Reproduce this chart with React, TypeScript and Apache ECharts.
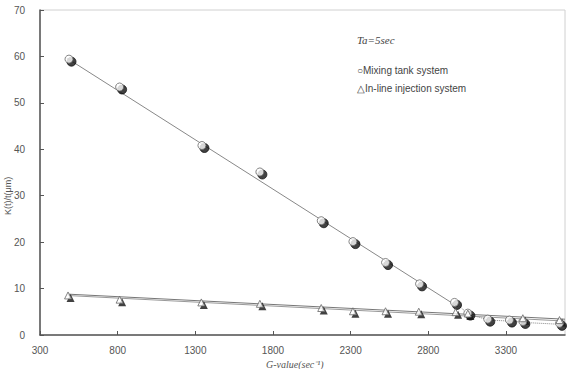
import React, { useEffect, useRef } from "react";
import * as echarts from "echarts";

const mixG = [493, 819, 1349, 1722, 2117, 2321, 2531, 2750, 2975, 3061, 3189, 3329, 3415, 3651];
const mixK = [59.2, 53.2, 40.6, 34.9, 24.4, 19.9, 15.4, 10.8, 6.8, 4.5, 3.2, 3.0, 2.7, 2.3];
const inlG = [487, 819, 1345, 1722, 2117, 2321, 2531, 2745, 2982, 3061, 3415, 3651];
const inlK = [8.3, 7.4, 6.8, 6.5, 5.6, 4.9, 4.9, 4.8, 4.7, 4.4, 3.4, 3.0];
const mixFitG = [470, 2990];
const mixFitK = [59.7, 6.1];
const mixTailG = [2975, 3061, 3189, 3329, 3415, 3651];
const mixTailK = [6.8, 4.5, 3.2, 3.0, 2.7, 2.3];
const inlFitG = [480, 3680];
const inlFitK1 = [8.8, 3.4];
const inlFitK2 = [8.5, 3.0];
const xTicks = [300, 800, 1300, 1800, 2300, 2800, 3300];
const yTicks = [0, 10, 20, 30, 40, 50, 60, 70];

const zip = (a: number[], b: number[]) => a.map((v, i) => [v, b[i]]);

export default function App() {
  const ref = useRef<HTMLDivElement>(null);
  useEffect(() => {
    const chart = echarts.init(ref.current!, null, { renderer: "svg" });
    const font = "Liberation Sans";
    chart.setOption({
      animation: false,
      backgroundColor: "#fff",
      grid: { left: 40, right: 2, top: 10, bottom: 34, show: true, borderColor: "#d0d0d0", borderWidth: 1 },
      xAxis: {
        type: "value",
        min: 300,
        max: 3680,
        interval: 500,
        axisLine: { show: true, lineStyle: { color: "#555", width: 1.5 } },
        axisTick: { show: true, inside: true, length: 4, lineStyle: { color: "#555" } },
        axisLabel: {
          showMaxLabel: false,
          color: "#555",
          fontSize: 10,
          fontFamily: font,
          margin: 10,
          formatter: (v: number) => (xTicks.includes(v) ? String(v) : ""),
        },
        splitLine: { show: false },
      },
      yAxis: {
        type: "value",
        min: 0,
        max: 70,
        interval: 10,
        axisLine: { show: true, lineStyle: { color: "#555", width: 1.5 } },
        axisTick: { show: true, inside: true, length: 4, lineStyle: { color: "#555" } },
        axisLabel: {
          color: "#555",
          fontSize: 10,
          fontFamily: font,
          margin: 15,
          formatter: (v: number) => (yTicks.includes(v) ? String(v) : ""),
        },
        splitLine: { show: false },
      },
      series: [
        {
          type: "line",
          data: zip(mixFitG, mixFitK),
          symbol: "none",
          lineStyle: { color: "#888", width: 1 },
          z: 1,
        },
        {
          type: "line",
          data: zip(mixTailG, mixTailK),
          symbol: "none",
          lineStyle: { color: "#888", width: 1, type: "dotted" },
          z: 1,
        },
        {
          type: "line",
          data: zip(inlFitG, inlFitK1),
          symbol: "none",
          lineStyle: { color: "#777", width: 1 },
          z: 1,
        },
        {
          type: "line",
          data: zip(inlFitG, inlFitK2),
          symbol: "none",
          lineStyle: { color: "#999", width: 1 },
          z: 1,
        },
        {
          type: "scatter",
          data: zip(mixG, mixK),
          symbol: "circle",
          symbolSize: 9,
          symbolOffset: [1.5, 1.5],
          itemStyle: { color: "#111", borderColor: "#111", borderWidth: 1 },
          z: 3,
        },
        {
          type: "scatter",
          data: zip(mixG, mixK),
          symbol: "circle",
          symbolSize: 8,
          symbolOffset: [-1, -1],
          itemStyle: { color: "#fff", borderColor: "#666", borderWidth: 1 },
          z: 4,
        },
        {
          type: "scatter",
          data: zip(inlG, inlK),
          symbol: "triangle",
          symbolSize: 8,
          symbolOffset: [1.5, 1.5],
          itemStyle: { color: "#111" },
          z: 3,
        },
        {
          type: "scatter",
          data: zip(inlG, inlK),
          symbol: "triangle",
          symbolSize: 7,
          symbolOffset: [-1, -1],
          itemStyle: { color: "#fff", borderColor: "#666", borderWidth: 1 },
          z: 4,
        },
      ],
      graphic: [
        {
          type: "text",
          left: 357,
          top: 34,
          style: { text: "Ta=5sec", fontFamily: "Liberation Serif", fontStyle: "italic", fontSize: 11, fill: "#444" },
        },
        {
          type: "text",
          left: 357,
          top: 65,
          style: { text: "○Mixing tank system", fontFamily: font, fontSize: 10, fill: "#444" },
        },
        {
          type: "text",
          left: 357,
          top: 83,
          style: { text: "△In-line injection system", fontFamily: font, fontSize: 10, fill: "#444" },
        },
        {
          type: "text",
          left: 266,
          top: 359,
          style: { text: "G-value(sec⁻¹)", fontFamily: "Liberation Serif", fontStyle: "italic", fontSize: 10, fill: "#555" },
        },
        {
          type: "text",
          x: 3,
          y: 215,
          rotation: Math.PI / 2,
          style: { text: "K(t)/t(μm)", fontFamily: font, fontSize: 9, fill: "#555" },
        },
      ],
    });
    return () => chart.dispose();
  }, []);
  return <div ref={ref} style={{ width: 567, height: 369, position: "absolute", left: 0, top: 0 }} />;
}
